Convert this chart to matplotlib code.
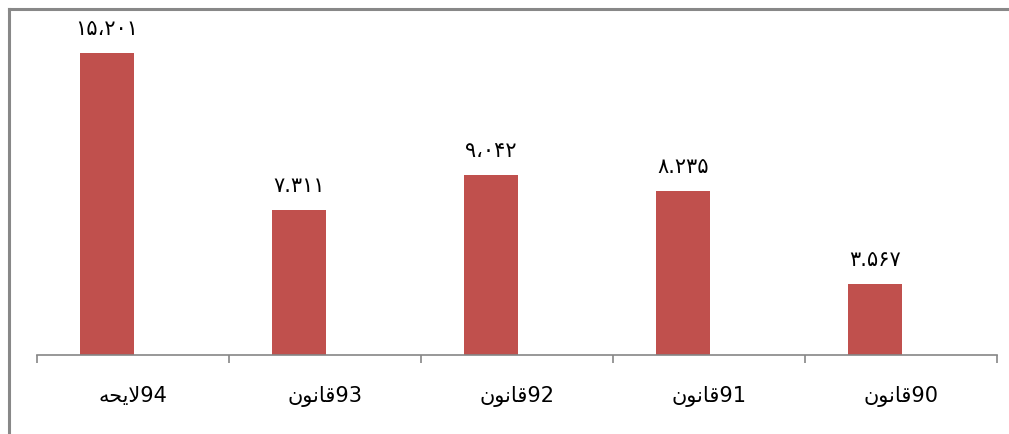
import matplotlib
matplotlib.use("Agg")
import matplotlib.pyplot as plt
from matplotlib.lines import Line2D

# categories shown in visual (left-to-right) order, pre-shaped arabic glyphs
categories = [
    "\uFEEA\uFEA4\uFBFE\uFEFB94",   # لایحه94
    "\uFEE5\uFEEE\uFEE7\uFE8E\uFED793",  # قانون93
    "\uFEE5\uFEEE\uFEE7\uFE8E\uFED792",
    "\uFEE5\uFEEE\uFEE7\uFE8E\uFED791",
    "\uFEE5\uFEEE\uFEE7\uFE8E\uFED790",
]
values = [15201, 7311, 9042, 8235, 3567]
separators = ["\u060C", ".", "\u060C", ".", "."]

fa_digits = "۰۱۲۳۴۵۶۷۸۹"


def to_fa(v, sep):
    s = "{:,}".format(v)
    out = ""
    for ch in s:
        if ch == ",":
            out += sep
        else:
            out += fa_digits[int(ch)]
    return out


plt.rcParams['font.family'] = ['DejaVu Sans']

fig = plt.figure(figsize=(10.09, 4.34), dpi=100)
ax = fig.add_axes([0.0367, 0.182, 0.9514, 0.733])

x = list(range(len(values)))
# bars sit left of the category centre (clustered layout with one series)
bar_x = [xi - 0.135 for xi in x]
ax.bar(bar_x, values, width=0.285, color="#C0504D", zorder=2)

for bx, v, sep in zip(bar_x, values, separators):
    ax.annotate(to_fa(v, sep), (bx, v), xytext=(0, 10), textcoords="offset points",
                ha="center", va="bottom", fontsize=15, color="black")

ax.set_xlim(-0.5, len(values) - 0.5)
ax.set_ylim(0, 16000)

for side in ["top", "right", "left"]:
    ax.spines[side].set_visible(False)
ax.spines["bottom"].set_color("#868686")
ax.spines["bottom"].set_linewidth(1.2)

ax.set_yticks([])
ax.set_xticks([i - 0.5 for i in range(len(values) + 1)], minor=False)
ax.set_xticklabels([])
ax.tick_params(axis="x", direction="out", length=6, width=1.2, color="#868686")
ax.set_xticks(x, minor=True)
ax.set_xticklabels(categories, minor=True, fontsize=15)
ax.tick_params(axis="x", which="minor", length=0, pad=22)

# outer frame of the chart area (partly cut off)
fig.add_artist(Line2D([0.0089, 0.0089], [0.0, 0.979], color="#888888", lw=2.2,
                      transform=fig.transFigure, solid_capstyle="projecting"))
fig.add_artist(Line2D([0.0089, 1.0], [0.979, 0.979], color="#888888", lw=2.2,
                      transform=fig.transFigure, solid_capstyle="projecting"))

fig.savefig("out.png", dpi=100)
